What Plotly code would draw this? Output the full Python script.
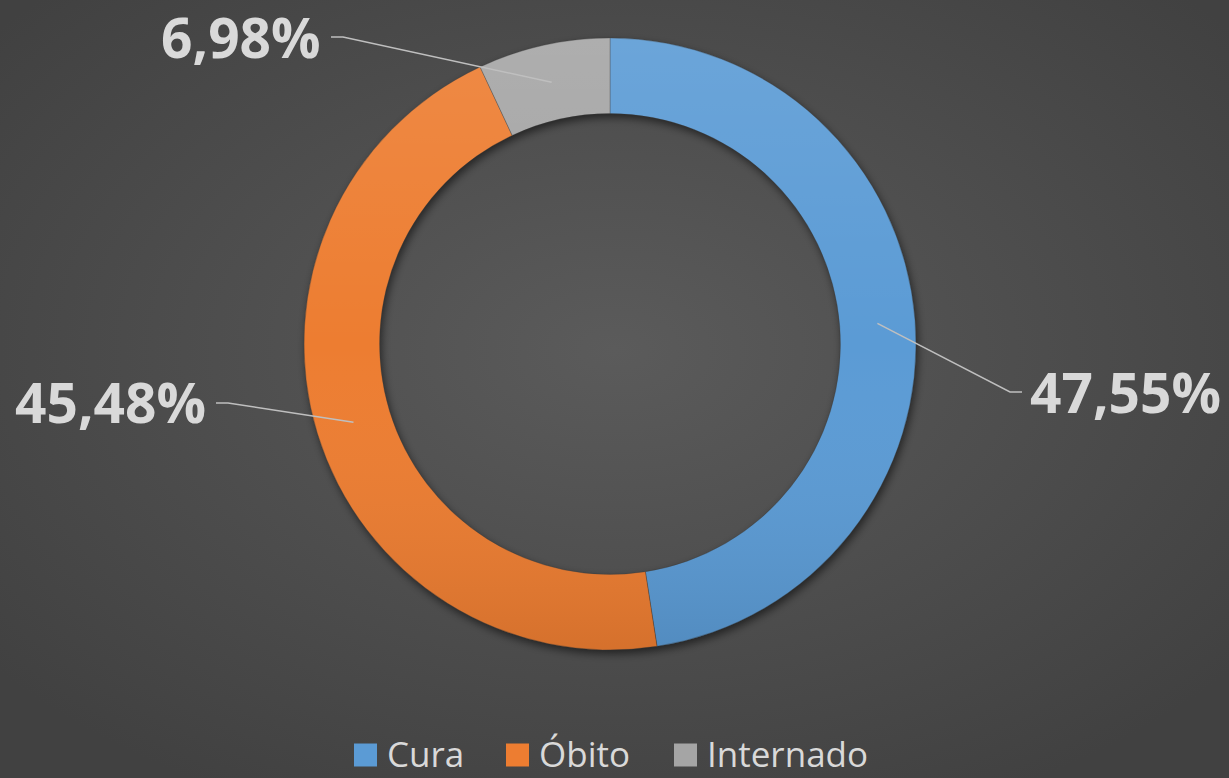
import math, base64
import plotly.graph_objects as go

# ---- data ----
categories = ["Cura", "Óbito", "Internado"]
values = [47.55, 45.48, 6.98]
labels_text = ["47,55%", "45,48%", "6,98%"]
colors = ["#5b9bd5", "#ed7d31", "#a5a5a5"]

W, H = 1229, 778
CX, CY, R_OUT = 610, 344, 306
HOLE = 0.753
R_IN = R_OUT * HOLE

def px(x):
    return x / W

def py(y):
    return 1 - y / H

# label placement (elbow point, end of horizontal tick, text anchor side)
label_layout = [
    dict(elbow=(1010, 392), end=(1022, 392), side="left", ty=391),
    dict(elbow=(228, 403), end=(216, 403), side="right", ty=401),
    dict(elbow=(343, 37), end=(331, 37), side="right", ty=36),
]

fig = go.Figure()

def ring_path(cx, cy, ro, ri):
    return (f"M {cx - ro} {cy} A {ro} {ro} 0 1 0 {cx + ro} {cy} A {ro} {ro} 0 1 0 {cx - ro} {cy} Z "
            f"M {cx - ri} {cy} A {ri} {ri} 0 1 1 {cx + ri} {cy} A {ri} {ri} 0 1 1 {cx - ri} {cy} Z")

# background radial gradient + soft ring shadow (drawn below the pie)
bg_svg = f'''<svg xmlns="http://www.w3.org/2000/svg" width="{W}" height="{H}" viewBox="0 0 {W} {H}" preserveAspectRatio="none">
<defs><radialGradient id="g" cx="50%" cy="45%" r="65%">
<stop offset="0" stop-color="#5b5b5b"/><stop offset="1" stop-color="#414141"/></radialGradient>
<filter id="b" x="-20%" y="-20%" width="140%" height="140%"><feGaussianBlur stdDeviation="4"/></filter></defs>
<rect width="{W}" height="{H}" fill="url(#g)"/>
<path d="{ring_path(CX + 2, CY + 4, R_OUT, R_IN)}" fill="#000" fill-opacity="0.55" fill-rule="evenodd" filter="url(#b)"/>
</svg>'''
bg_src = "data:image/svg+xml;base64," + base64.b64encode(bg_svg.encode()).decode()

# subtle top-light / bottom-dark shading over the ring
sh_svg = f'''<svg xmlns="http://www.w3.org/2000/svg" width="{W}" height="{H}" viewBox="0 0 {W} {H}" preserveAspectRatio="none">
<defs><linearGradient id="s" x1="0" y1="0" x2="0" y2="1">
<stop offset="0" stop-color="#fff" stop-opacity="0.10"/><stop offset="0.5" stop-color="#fff" stop-opacity="0"/>
<stop offset="1" stop-color="#000" stop-opacity="0.10"/></linearGradient></defs>
<path d="{ring_path(CX, CY, R_OUT, R_IN)}" fill="url(#s)" fill-rule="evenodd"/>
</svg>'''
sh_src = "data:image/svg+xml;base64," + base64.b64encode(sh_svg.encode()).decode()

dom_x = [px(CX - R_OUT), px(CX + R_OUT)]
dom_y = [py(CY + R_OUT), py(CY - R_OUT)]

fig.add_trace(go.Pie(
    labels=categories, values=values, hole=HOLE, sort=False,
    direction="clockwise", rotation=0,
    marker=dict(colors=colors, line=dict(width=0.6, color="rgba(60,60,60,0.6)")),
    textinfo="none", hoverinfo="label+percent", showlegend=False,
    domain=dict(x=dom_x, y=dom_y),
))

shapes = []
annotations = []
total = sum(values)
cum = 0.0
r_mid = (R_OUT + R_IN) / 2
for v, txt, lay in zip(values, labels_text, label_layout):
    mid = (cum + v / 2) / total * 2 * math.pi
    cum += v
    sx = CX + r_mid * math.sin(mid)
    sy = CY - r_mid * math.cos(mid)
    ex, ey = lay["elbow"]
    tx, ty = lay["end"]
    path = f"M {px(sx)} {py(sy)} L {px(ex)} {py(ey)} L {px(tx)} {py(ty)}"
    shapes.append(dict(type="path", path=path, xref="paper", yref="paper",
                       line=dict(color="#bfbfbf", width=1.5), layer="above"))
    if lay["side"] == "left":
        ax_, xa = tx + 6, "left"
    else:
        ax_, xa = tx - 8, "right"
    annotations.append(dict(x=px(ax_), y=py(lay["ty"]), xref="paper", yref="paper",
                            text=f"<b>{txt}</b>", showarrow=False, xanchor=xa, yanchor="middle",
                            font=dict(family="Open Sans", size=55, color="#d9d9d9")))

# custom legend
leg_x = [354, 506, 674]
leg_sq_y = 755
leg_txt_y = 753
sq = 23
for name, col, lx in zip(categories, colors, leg_x):
    shapes.append(dict(type="rect", xref="paper", yref="paper",
                       x0=px(lx), x1=px(lx + sq), y0=py(leg_sq_y + sq / 2), y1=py(leg_sq_y - sq / 2),
                       fillcolor=col, line=dict(width=0), layer="above"))
    annotations.append(dict(x=px(lx + sq + 8), y=py(leg_txt_y), xref="paper", yref="paper",
                            text=name, showarrow=False, xanchor="left", yanchor="middle",
                            font=dict(family="Open Sans", size=35, color="#d9d9d9")))

fig.update_layout(
    width=W, height=H,
    margin=dict(l=0, r=0, t=0, b=0),
    paper_bgcolor="#4a4a4a", plot_bgcolor="#4a4a4a",
    images=[
        dict(source=bg_src, xref="paper", yref="paper", x=0, y=1, sizex=1, sizey=1,
             sizing="stretch", layer="below", xanchor="left", yanchor="top"),
        dict(source=sh_src, xref="paper", yref="paper", x=0, y=1, sizex=1, sizey=1,
             sizing="stretch", layer="above", xanchor="left", yanchor="top"),
    ],
    shapes=shapes, annotations=annotations, showlegend=False,
)

fig.write_html("out.html", config={"displayModeBar": False},
               post_script="document.body.style.margin='0';document.body.style.overflow='hidden';")
